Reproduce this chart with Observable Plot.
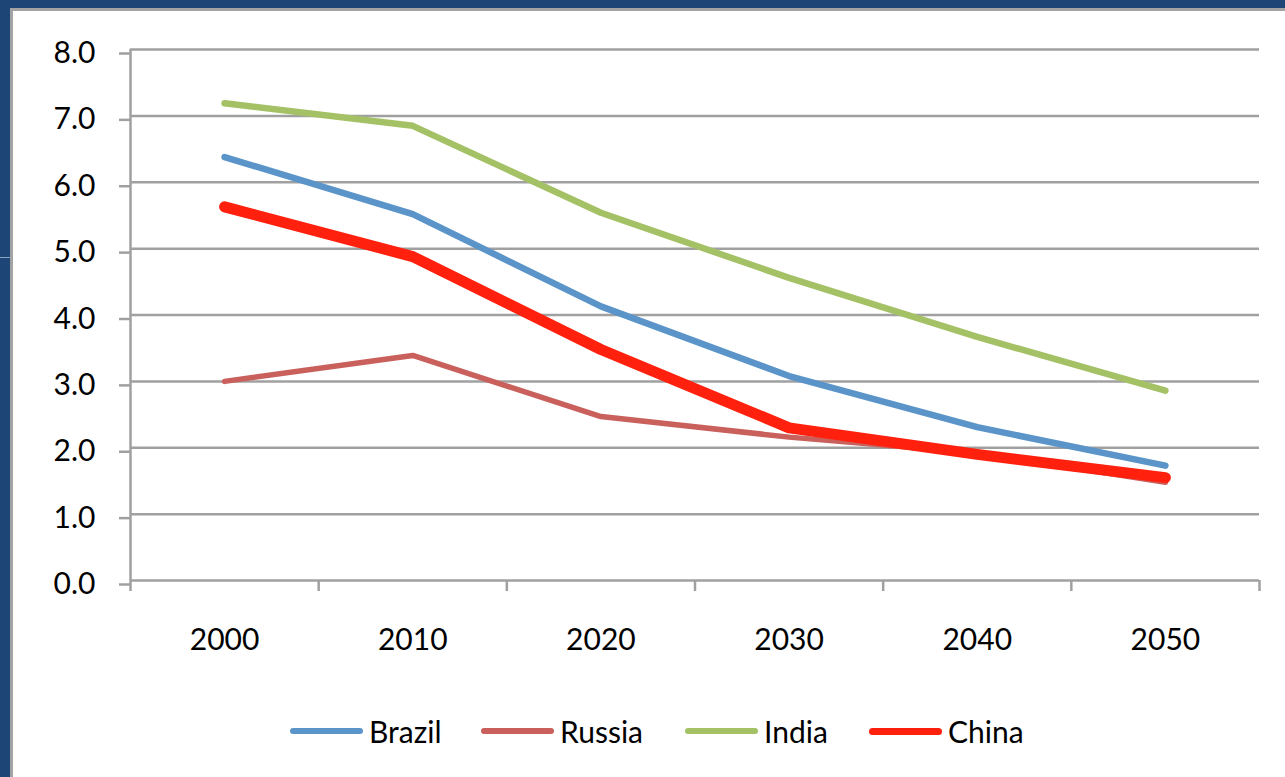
<!DOCTYPE html>
<html>
<head>
<meta charset="utf-8">
<script src="https://cdn.jsdelivr.net/npm/d3@7"></script>
<script src="https://cdn.jsdelivr.net/npm/@observablehq/plot@0.6"></script>
<style>
  html, body { margin: 0; padding: 0; }
  body {
    width: 1285px; height: 777px; overflow: hidden; position: relative;
    background: #1d4677; font-family: Lato, "Open Sans", sans-serif;
  }
  #panel {
    position: absolute; left: 10px; top: 8px; right: 0; bottom: 0;
    background: #ffffff; border-left: 3px solid #a3a3a3; border-top: 3px solid #a3a3a3;
  }
  #edge {
    position: absolute; left: 0; top: 257px; width: 10px; height: 1px; background: #8ea6c4;
  }
  #chart { position: absolute; left: 0; top: 0; }
  #legend {
    position: absolute; left: 0; top: 711px; width: 1285px; height: 40px;
  }
  .item { position: absolute; top: 0; display: flex; align-items: center; height: 40px; }
  .swatch { width: 73px; border-radius: 4px; margin-right: 6px; }
  .label { font-size: 30px; color: #000; }
</style>
</head>
<body>
<div id="panel"></div>
<div id="edge"></div>
<div id="chart"></div>
<div id="legend"></div>
<script>
// Projected values by decade for the four BRIC economies
const years = [2000, 2010, 2020, 2030, 2040, 2050];
const seriesNames = ["Brazil", "Russia", "India", "China"];
const brazil = [6.38, 5.52, 4.13, 3.08, 2.31, 1.73];
const russia = [3.00, 3.39, 2.47, 2.16, 1.92, 1.48];
const india  = [7.19, 6.85, 5.54, 4.56, 3.67, 2.86];
const china  = [5.63, 4.88, 3.48, 2.30, 1.90, 1.55];
const yTicks = [0, 1, 2, 3, 4, 5, 6, 7, 8];
// category boundaries for the x axis tick marks
const xBounds = [1995, 2005, 2015, 2025, 2035, 2045, 2055];

const colors = { Brazil: "#5b94c8", Russia: "#c9605c", India: "#a4c166", China: "#ff200e" };
const widths = { Brazil: 6.5, Russia: 5.5, India: 6.5, China: 11 };

const valuesBy = { Brazil: brazil, Russia: russia, India: india, China: china };
const rows = seriesNames.flatMap(name => years.map((year, i) => ({ name, year, value: valuesBy[name][i] })));

const grid = "#a0a0a0";

const chart = Plot.plot({
  width: 1285,
  height: 680,
  marginLeft: 130,
  marginRight: 26,
  marginTop: 49,
  marginBottom: 100,
  style: { background: "transparent", fontFamily: "Lato, 'Open Sans', sans-serif", overflow: "visible" },
  x: { type: "linear", domain: [1995, 2055], axis: null },
  y: { domain: [0, 8], axis: null },
  marks: [
    // horizontal gridlines
    Plot.ruleY(yTicks, { stroke: grid, strokeWidth: 2.5 }),
    // vertical axis line
    Plot.ruleX([1995], { y1: 0, y2: 8, stroke: grid, strokeWidth: 2.5 }),
    // y axis ticks and labels
    Plot.axisY(yTicks, {
      label: null, tickSize: 11, tickPadding: 24, stroke: grid, strokeWidth: 2.5,
      tickFormat: d3.format(".1f"), fontSize: 30, fill: "#000", dy: 4
    }),
    // x axis tick marks at category boundaries
    Plot.axisX(xBounds, {
      label: null, tickSize: 11, stroke: grid, strokeWidth: 2.5, tickFormat: () => ""
    }),
    // x axis category labels
    Plot.axisX(years, {
      label: null, tickSize: 0, tickPadding: 48, tickFormat: d => String(d), fontSize: 30, fill: "#000"
    }),
    ...seriesNames.map(name =>
      Plot.line(rows.filter(d => d.name === name), {
        x: "year", y: "value",
        stroke: colors[name], strokeWidth: widths[name],
        strokeLinecap: "round", strokeLinejoin: "round"
      })
    )
  ]
});
document.getElementById("chart").appendChild(chart);

// legend below the chart
const legendPos = { Brazil: 290, Russia: 481, India: 685, China: 869 };
const legend = document.getElementById("legend");
for (const name of seriesNames) {
  const item = document.createElement("div");
  item.className = "item";
  item.style.left = legendPos[name] + "px";
  const sw = document.createElement("div");
  sw.className = "swatch";
  sw.style.background = colors[name];
  sw.style.height = (name === "China" ? 7 : 6) + "px";
  const lb = document.createElement("span");
  lb.className = "label";
  lb.textContent = name;
  item.appendChild(sw);
  item.appendChild(lb);
  legend.appendChild(item);
}
</script>
</body>
</html>
